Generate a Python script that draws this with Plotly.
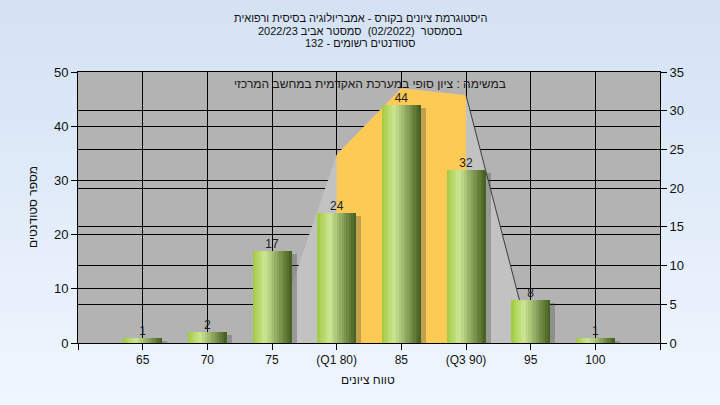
import plotly.graph_objects as go

# ---------------- data ----------------
categories = ['65', '70', '75', '(Q1 80)', '85', '(Q3 90)', '95', '100']
counts = [1, 2, 17, 24, 44, 32, 8, 1]                 # left axis (students)
area_values = [0, 0, 0, 24.3, 32.9, 32.0, 0, 0]       # right axis background area
quartile_idx = [3, 4, 5]                              # Q1..Q3 highlighted range
left_ticks = [0, 10, 20, 30, 40, 50]
right_ticks = [0, 5, 10, 15, 20, 25, 30, 35]
title_lines = [
    'היסטוגרמת ציונים בקורס - אמבריולוגיה בסיסית ורפואית',
    'בסמסטר  (02/2022)  סמסטר אביב 2022/23',
    'סטודנטים רשומים - 132',
]
note_text = 'במשימה : ציון סופי במערכת האקדמית במחשב המרכזי'
x_title = 'טווח ציונים'
y_title = 'מספר סטודנטים'

# ---------------- layout constants ----------------
W, H = 720, 405
ML, MR, MT, MB = 78, 60, 72, 62
PW, PH = W - ML - MR, H - MT - MB
FONT = 'Liberation Sans, Arial, DejaVu Sans, sans-serif'
xs = list(range(len(categories)))


def px_x(p):
    return (p - ML) / PW


def px_y(p):
    return 1 - (p - MT) / PH


def lerp(c1, c2, t):
    return tuple(round(a + (b - a) * t) for a, b in zip(c1, c2))


def grad(t):
    stops = [(0.0, (160, 202, 62)), (0.32, (206, 230, 148)), (1.0, (66, 92, 28))]
    for (t0, c0), (t1, c1) in zip(stops, stops[1:]):
        if t <= t1:
            c = lerp(c0, c1, (t - t0) / (t1 - t0))
            return 'rgb(%d,%d,%d)' % c
    return 'rgb(%d,%d,%d)' % stops[-1][1]


fig = go.Figure()

# background area (main y = right axis)
fig.add_trace(go.Scatter(x=xs, y=area_values, mode='lines', line=dict(width=0),
                         fill='tozeroy', fillcolor='#c2c2c2', hoverinfo='skip',
                         showlegend=False, yaxis='y'))
fig.add_trace(go.Scatter(x=[xs[i] for i in quartile_idx],
                         y=[area_values[i] for i in quartile_idx],
                         mode='lines', line=dict(width=0), fill='tozeroy',
                         fillcolor='#fdca56', hoverinfo='skip', showlegend=False,
                         yaxis='y'))
fig.add_trace(go.Scatter(x=xs[5:7], y=area_values[5:7], mode='lines',
                         line=dict(color='#3c3c3c', width=1), hoverinfo='skip',
                         showlegend=False, yaxis='y'))

# bars (overlay y2 = left axis)
BW = 0.6
fig.add_trace(go.Bar(x=xs, y=[max(c - 0.6, 0.3) for c in counts], width=BW,
                     offset=-BW / 2 + 0.08,
                     marker=dict(color='rgba(60,60,60,0.3)', line=dict(width=0)),
                     hoverinfo='skip', showlegend=False, yaxis='y2'))
N = 16
for i in range(N):
    fig.add_trace(go.Bar(x=xs, y=counts, width=BW / N + 0.002,
                         offset=-BW / 2 + i * BW / N,
                         marker=dict(color=grad((i + 0.5) / N), line=dict(width=0)),
                         hoverinfo='skip', showlegend=False, yaxis='y2'))

fig.add_trace(go.Scatter(x=xs, y=counts, mode='text', text=[str(c) for c in counts],
                         textposition='top center',
                         textfont=dict(family=FONT, size=12, color='#1c1c1c'),
                         cliponaxis=False, hoverinfo='skip', showlegend=False,
                         yaxis='y2'))

# background gradient + plot background as shapes
shapes = []
bands = 27
for i in range(bands):
    c = lerp((212, 226, 244), (239, 246, 254), i / (bands - 1))
    y0 = i * H / bands
    y1 = (i + 1) * H / bands + 1
    shapes.append(dict(type='rect', xref='paper', yref='paper', layer='below',
                       x0=px_x(0), x1=px_x(W), y0=px_y(y1), y1=px_y(y0),
                       line=dict(width=0), fillcolor='rgb(%d,%d,%d)' % c))
shapes.append(dict(type='rect', xref='paper', yref='paper', layer='below',
                   x0=0, x1=1, y0=0, y1=1, line=dict(width=0), fillcolor='#b3b3b3'))

annotations = []
for txt, yp in zip(title_lines, [18, 31, 43]):
    annotations.append(dict(text=txt, xref='paper', yref='paper', x=px_x(360),
                            y=px_y(yp), xanchor='center', yanchor='middle',
                            showarrow=False,
                            font=dict(family=FONT, size=11, color='#111')))
annotations.append(dict(text=note_text, xref='paper', yref='paper', x=px_x(370),
                        y=px_y(84), xanchor='center', yanchor='middle',
                        showarrow=False, font=dict(family=FONT, size=12, color='#1a1a1a')))
annotations.append(dict(text=x_title, xref='paper', yref='paper', x=px_x(368),
                        y=px_y(380), xanchor='center', yanchor='middle',
                        showarrow=False, font=dict(family=FONT, size=12, color='#111')))
annotations.append(dict(text=y_title, xref='paper', yref='paper', x=px_x(33),
                        y=px_y(207), xanchor='center', yanchor='middle', textangle=-90,
                        showarrow=False, font=dict(family=FONT, size=12, color='#111')))

axis_common = dict(showline=True, linecolor='black', linewidth=1, ticks='outside',
                   ticklen=6, tickcolor='black', showgrid=True, gridcolor='black',
                   gridwidth=1, zeroline=False,
                   tickfont=dict(family=FONT, size=13, color='#111'))

fig.update_layout(
    width=W, height=H, margin=dict(l=ML, r=MR, t=MT, b=MB),
    paper_bgcolor='#e2ecf8', plot_bgcolor='rgba(0,0,0,0)',
    barmode='overlay', bargap=0, showlegend=False,
    shapes=shapes, annotations=annotations,
    xaxis=dict(range=[-1, len(categories)], tickvals=list(range(-1, len(categories) + 1)),
               ticktext=[''] + categories + [''], mirror=True,
               **{**axis_common, 'tickfont': dict(family=FONT, size=12, color='#111')}),
    yaxis=dict(range=[0, 35], tickvals=right_ticks, side='right', **axis_common),
    yaxis2=dict(range=[0, 50], tickvals=left_ticks, side='left', overlaying='y',
                **axis_common),
)

fig.write_html('out.html', config={'displayModeBar': False},
               post_script="document.body.style.margin='0';document.body.style.padding='0';"
                           "document.body.style.background='#eef5fd';")
